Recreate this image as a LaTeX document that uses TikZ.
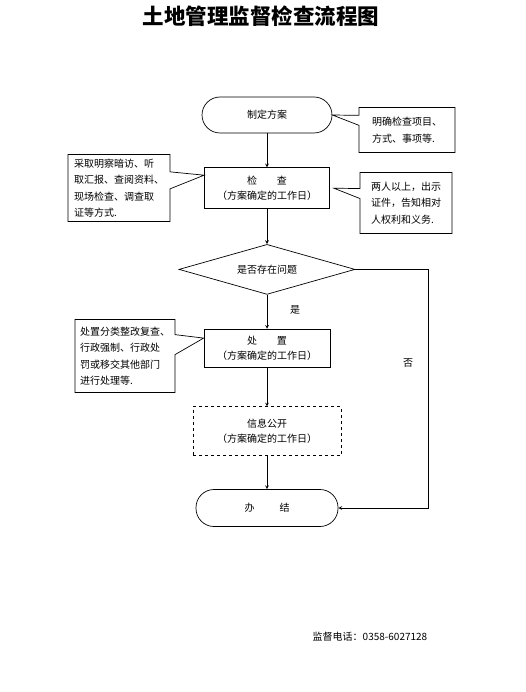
\documentclass[tikz,border=0pt]{standalone}
\usepackage{fontspec}
\setmainfont{Noto Sans CJK SC}
\usepackage{tikz}
\usetikzlibrary{arrows,shapes,positioning,shapes.callouts}
\tikzstyle{arrow} = [->,>=stealth,line width=0.7pt]
\tikzstyle{roundbox} = [rectangle, rounded corners=18pt, minimum width=130pt, minimum height=36pt, text centered, draw, line width=0.7pt, font=\fontsize{10pt}{15pt}\selectfont]
\tikzstyle{stepbox} = [rectangle, minimum width=125pt, minimum height=41pt, align=center, draw, line width=0.7pt, font=\fontsize{10pt}{15pt}\selectfont]
\tikzstyle{decisionbox} = [diamond, aspect=3.5, minimum width=176pt, minimum height=50pt, inner sep=0pt, draw, line width=0.7pt, font=\fontsize{10pt}{15pt}\selectfont]
\tikzstyle{notebox} = [rectangle callout, draw, align=left, line width=0.7pt, font=\fontsize{10pt}{16.5pt}\selectfont]

\begin{document}
\begin{tikzpicture}[x=1pt,y=-1pt]
\useasboundingbox (0,0) rectangle (525,692);
\node[font=\fontsize{21.5pt}{24pt}\selectfont\bfseries] (title) at (261,16) {土地管理监督检查流程图};

% Flow
\node[roundbox] (plan) at (267,115) {制定方案};
\node[stepbox, below=34pt of plan] (check) {检\hspace{2em}查\\（方案确定的工作日）};
\node[decisionbox, below=35pt of check] (issue) {是否存在问题};
\node[stepbox, minimum width=126pt, minimum height=38pt, below=34pt of issue] (dispose) {处\hspace{2em}置\\（方案确定的工作日）};
\node[stepbox, dashed, minimum width=148pt, minimum height=49pt, below=39pt of dispose] (publish) {信息公开\\（方案确定的工作日）};
\node[roundbox, minimum width=142pt, minimum height=37pt, below=33pt of publish] (finish) {办\hspace{2.5em}结};

\draw[arrow] (plan) -- (check);
\draw[arrow] (check) -- (issue);
\draw[arrow] (issue) -- (dispose);
\draw[arrow] (dispose) -- (publish);
\draw[arrow] (publish) -- (finish);
\draw[arrow] (issue.east) -- ++(73,0) |- (finish.east);
\node (yeslbl) at (295,310) {\fontsize{10pt}{12pt}\selectfont 是};
\node (nolbl) at (408,363) {\fontsize{10pt}{12pt}\selectfont 否};

% Notes
\node[notebox, minimum width=96pt, minimum height=45pt, callout pointer width=10pt, callout absolute pointer={(plan.east)}] (note1) at (407,130) {明确检查项目、\\方式、事项等.};
\node[notebox, minimum width=92pt, minimum height=61pt, callout pointer width=10pt, callout absolute pointer={([xshift=4pt]check.east)}] (note2) at (406,203) {两人以上，出示\\证件，告知相对\\人权利和义务.};
\node[notebox, minimum width=102pt, minimum height=67pt, callout pointer width=17pt, callout absolute pointer={([yshift=13pt]check.west)}] (note3) at (119,188) {采取明察暗访、听\\取汇报、查阅资料、\\现场检查、调查取\\证等方式.};
\node[notebox, minimum width=100pt, minimum height=73pt, callout pointer width=20pt, callout absolute pointer={([yshift=10pt]dispose.west)}] (note4) at (125,356) {处置分类整改复查、\\行政强制、行政处\\罚或移交其他部门\\进行处理等.};

\node (phone) at (370,637) {\fontsize{10pt}{12pt}\selectfont 监督电话：0358-6027128};
\end{tikzpicture}
\end{document}
